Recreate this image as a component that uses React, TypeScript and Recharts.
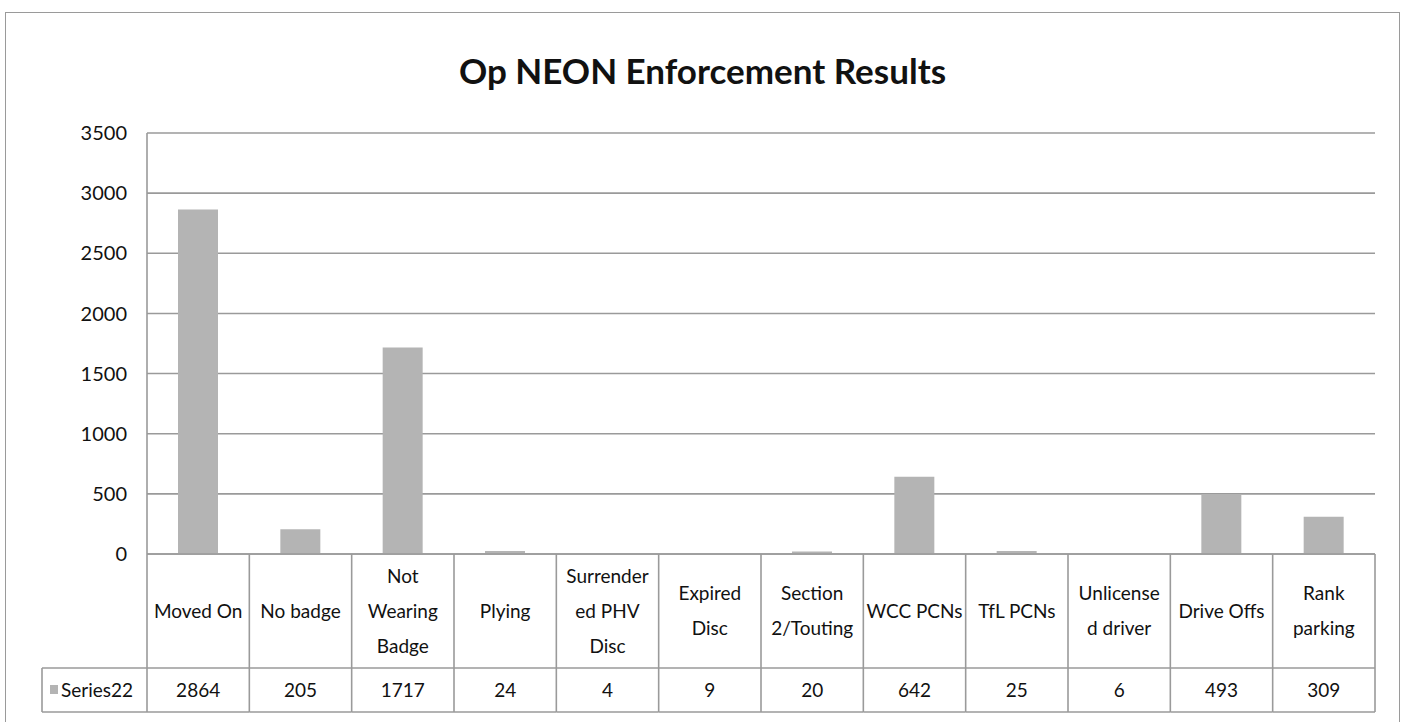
import React from 'react';
import { BarChart, Bar, XAxis, YAxis, CartesianGrid } from 'recharts';

// Op NEON data
const categories = [
  'Moved On',
  'No badge',
  'Not\nWearing\nBadge',
  'Plying',
  'Surrender\ned PHV\nDisc',
  'Expired\nDisc',
  'Section\n2/Touting',
  'WCC PCNs',
  'TfL PCNs',
  'Unlicense\nd driver',
  'Drive Offs',
  'Rank\nparking',
];
const series22 = [2864, 205, 1717, 24, 4, 9, 20, 642, 25, 6, 493, 309];
const yTicks = [0, 500, 1000, 1500, 2000, 2500, 3000, 3500];
const seriesName = 'Series22';
const title = 'Op NEON Enforcement Results';

const data = categories.map((c, i) => ({ category: c, value: series22[i] }));

const W = 1405;
const H = 722;
const PLOT_LEFT = 147;
const PLOT_RIGHT = 1375;
const PLOT_TOP = 133;
const CELL_W = (PLOT_RIGHT - PLOT_LEFT) / categories.length;
const ROW1 = 114; // category label row
const ROW2 = 44; // value row
const LEGEND_LEFT = 42;
const LINE = '#9a9a9a';
const LW = 1.6;
const BAR = '#b4b4b4';
const FONT = 'Lato, "Open Sans", sans-serif';
const TEXT_SIZE = 19;

// data-table style x tick: label cell + value cell
const TableTick = (props: any) => {
  const { x, y, payload, index } = props;
  const lines = String(payload.value).split('\n');
  const left = x - CELL_W / 2;
  const right = x + CELL_W / 2;
  const lh = 35;
  const mid = y + ROW1 / 2;
  const start = mid - ((lines.length - 1) * lh) / 2;
  const bottom = y + ROW1 + ROW2;
  return (
    <g>
      <line x1={right} y1={y} x2={right} y2={bottom} stroke={LINE} strokeWidth={LW} />
      <line x1={left} y1={y + ROW1} x2={right} y2={y + ROW1} stroke={LINE} strokeWidth={LW} />
      <line x1={left} y1={bottom} x2={right} y2={bottom} stroke={LINE} strokeWidth={LW} />
      {index === 0 && (
        <g>
          <line x1={left} y1={y} x2={left} y2={bottom} stroke={LINE} strokeWidth={LW} />
          <line x1={LEGEND_LEFT} y1={y + ROW1} x2={left} y2={y + ROW1} stroke={LINE} strokeWidth={LW} />
          <line x1={LEGEND_LEFT} y1={bottom} x2={left} y2={bottom} stroke={LINE} strokeWidth={LW} />
          <line x1={LEGEND_LEFT} y1={y + ROW1} x2={LEGEND_LEFT} y2={bottom} stroke={LINE} strokeWidth={LW} />
          <rect x={LEGEND_LEFT + 8} y={y + ROW1 + ROW2 / 2 - 5} width={8} height={9} fill={BAR} />
          <text x={LEGEND_LEFT + 19} y={y + ROW1 + ROW2 / 2} dy="0.35em" fontSize={TEXT_SIZE} fontFamily={FONT} fill="#111">
            {seriesName}
          </text>
        </g>
      )}
      {lines.map((l, i) => (
        <text key={i} x={x} y={start + i * lh} dy="0.35em" textAnchor="middle" fontSize={TEXT_SIZE} fontFamily={FONT} fill="#111">
          {l}
        </text>
      ))}
      <text x={x} y={y + ROW1 + ROW2 / 2} dy="0.35em" textAnchor="middle" fontSize={TEXT_SIZE} fontFamily={FONT} fill="#111">
        {series22[index]}
      </text>
    </g>
  );
};

const App = () => {
  return (
    <div style={{ position: 'absolute', left: 0, top: 0, width: W, height: H, overflow: 'hidden', background: '#fff' }}>
      <div
        style={{
          position: 'absolute',
          left: 5,
          top: 12,
          width: 1393,
          height: 760,
          border: `1.5px solid ${LINE}`,
        }}
      />
      <div
        style={{
          position: 'absolute',
          left: 0,
          width: W,
          top: 49,
          textAlign: 'center',
          fontFamily: FONT,
          fontWeight: 700,
          fontSize: 35,
          color: '#111',
        }}
      >
        {title}
      </div>
      <div style={{ position: 'absolute', left: 0, top: 0 }}>
        <BarChart
          width={W}
          height={H}
          data={data}
          margin={{ top: PLOT_TOP, right: W - PLOT_RIGHT, left: 0, bottom: 0 }}
          barCategoryGap="30%"
        >
          <CartesianGrid vertical={false} stroke={LINE} strokeWidth={LW} />
          <XAxis
            dataKey="category"
            height={168}
            interval={0}
            tickLine={false}
            tickSize={0}
            tickMargin={0}
            axisLine={{ stroke: LINE, strokeWidth: LW }}
            tick={<TableTick />}
          />
          <YAxis
            width={PLOT_LEFT}
            domain={[0, 3500]}
            ticks={yTicks}
            tickLine={false}
            tickSize={6}
            tickMargin={14}
            axisLine={{ stroke: LINE, strokeWidth: LW }}
            tick={{ fill: '#111', fontSize: TEXT_SIZE + 1, fontFamily: FONT }}
          />
          <Bar dataKey="value" fill={BAR} barSize={40} isAnimationActive={false} />
        </BarChart>
      </div>
    </div>
  );
};

export default App;
